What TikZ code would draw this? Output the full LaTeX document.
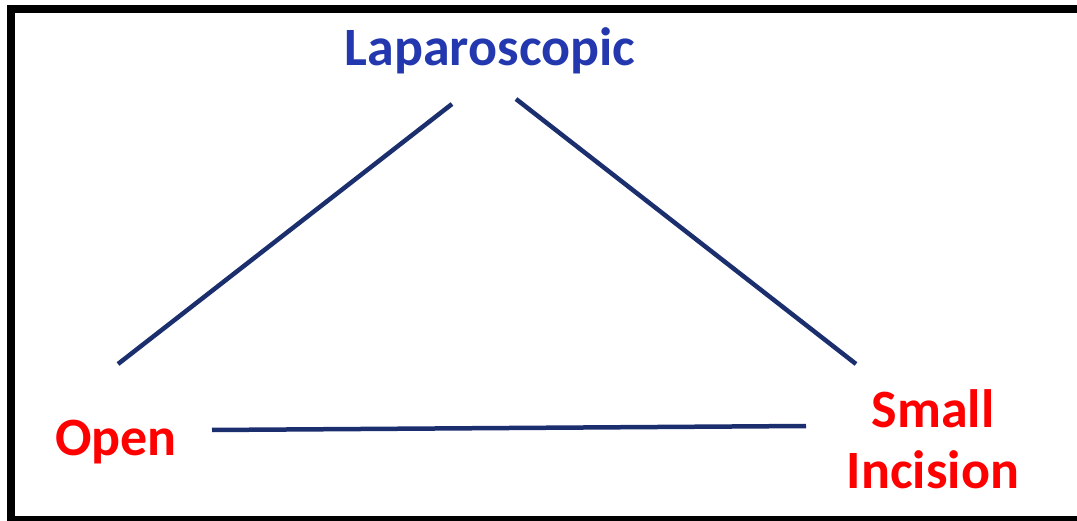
\documentclass[tikz,border=0pt]{standalone}
\usepackage{fontspec}
\setmainfont{Carlito}
\usetikzlibrary{positioning}
\definecolor{Navy}{HTML}{1B2E6E}
\definecolor{Royal}{HTML}{2338AE}
\definecolor{Signal}{HTML}{FF0000}

\begin{document}
\begin{tikzpicture}[
  x=1pt,
  y=-1pt,
  term/.style={
    font=\fontsize{54}{61}\selectfont\bfseries,
    inner sep=0pt,
    anchor=base
  },
  blueterm/.style={
    term,
    text=Royal
  },
  redterm/.style={
    term,
    text=Signal,
    align=center
  },
  edge/.style={draw=Navy,line width=4.5pt}
]
\clip (0,0) rectangle (1077,521);
\draw[line width=8pt] (11,9) rectangle (1100,520);

\node[blueterm] (lap) at (490,66) {Laparoscopic};
\node[redterm] (open) at (116,455) {Open};
\node[redterm] (small) at (933,488) {Small\\Incision};

% free ends of the three sides
\coordinate (lap-w) at (452,104);
\coordinate (lap-e) at (516,99);
\coordinate (open-n) at (118,364);
\coordinate (open-e) at (212,430);
\coordinate (small-n) at (856,364);
\coordinate (small-w) at (806,426);

\draw[edge] (open-n) -- (lap-w);
\draw[edge] (lap-e) -- (small-n);
\draw[edge] (open-e) -- (small-w);
\end{tikzpicture}
\end{document}
